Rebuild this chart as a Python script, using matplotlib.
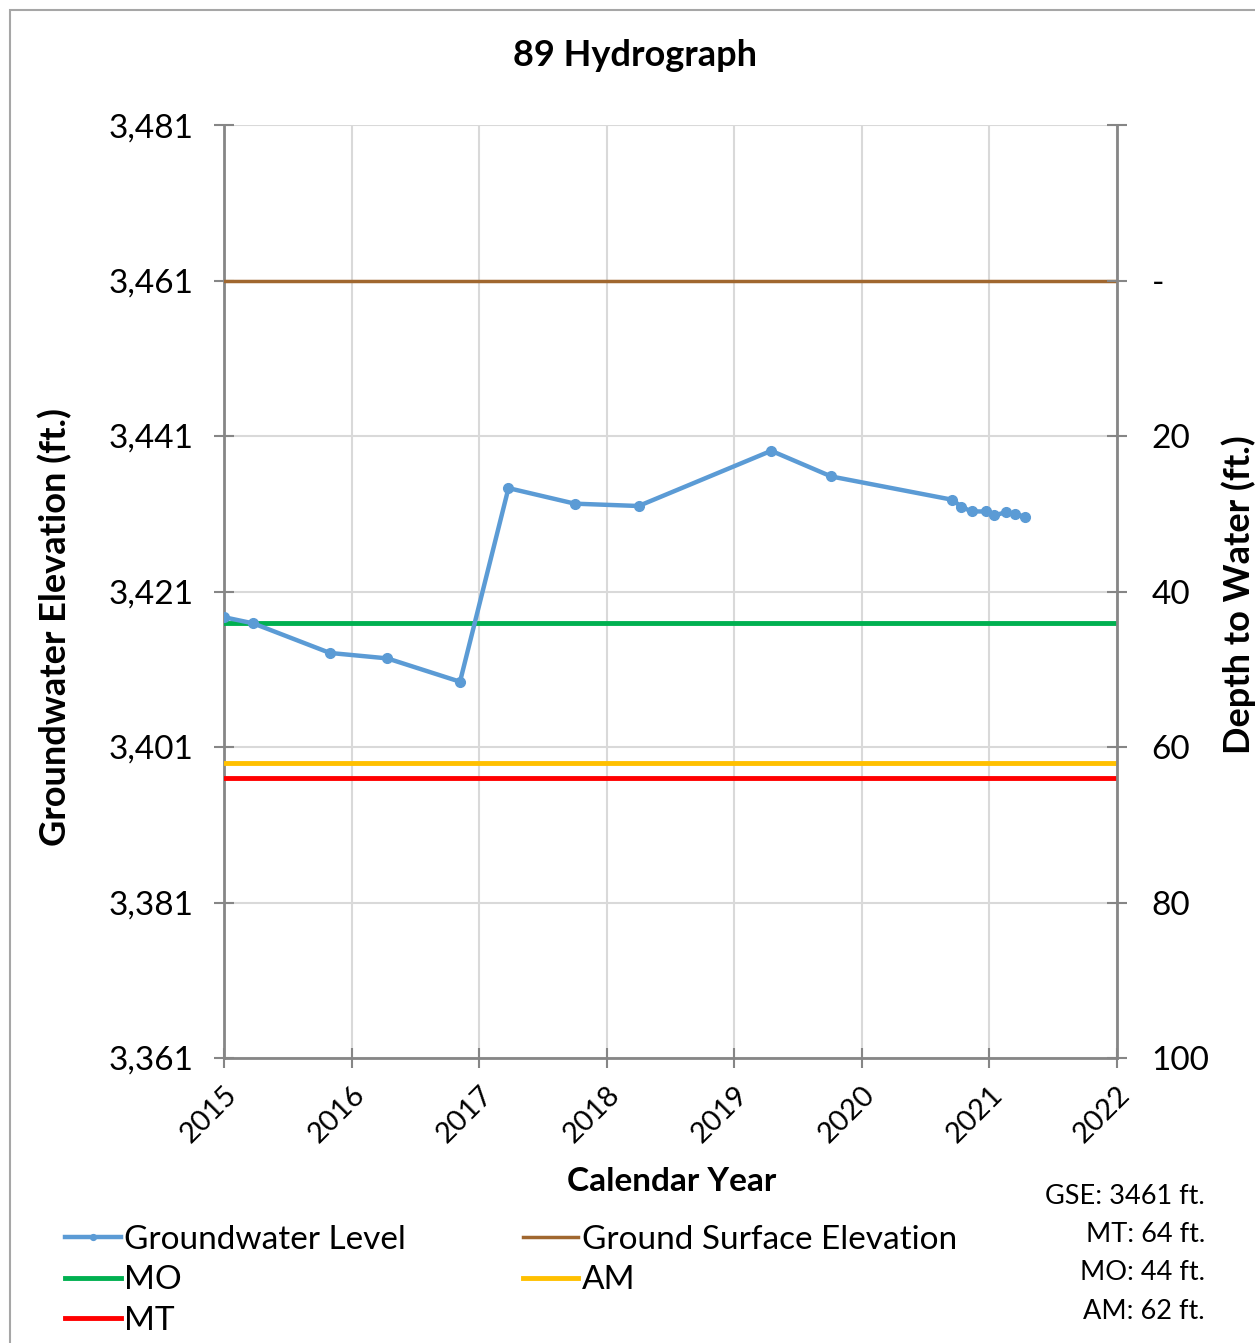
import matplotlib.pyplot as plt
from matplotlib.patches import Rectangle

plt.rcParams['font.family'] = ['Lato', 'DejaVu Sans']

# groundwater level readings (decimal year, elevation ft)
gw_year = [2015.0, 2015.23, 2015.83, 2016.28, 2016.85, 2017.23, 2017.75, 2018.25,
           2019.29, 2019.76, 2020.71, 2020.78, 2020.86, 2020.97, 2021.04, 2021.13,
           2021.2, 2021.28]
gw_elev = [3417.7, 3416.9, 3413.1, 3412.4, 3409.4, 3434.3, 3432.3, 3432.0,
           3439.1, 3435.8, 3432.8, 3431.9, 3431.3, 3431.3, 3430.8, 3431.2,
           3431.0, 3430.6]

gse = 3461
mo_depth = 44
am_depth = 62
mt_depth = 64

years = list(range(2015, 2023))
elev_ticks = [3361, 3381, 3401, 3421, 3441, 3461, 3481]
depth_ticks = [-20, 0, 20, 40, 60, 80, 100]
depth_labels = ['', '-', '20', '40', '60', '80', '100']

fig = plt.figure(figsize=(12.55, 13.43), dpi=100)
ax = fig.add_axes([0.1785, 0.2122, 0.7115, 0.6947])

grid_c = '#D9D9D9'
axis_c = '#868686'

for y in years:
    ax.axvline(y, color=grid_c, lw=1.5, zorder=0)
for e in elev_ticks:
    ax.axhline(e, color=grid_c, lw=1.5, zorder=0)

l_gw, = ax.plot(gw_year, gw_elev, color='#5B9BD5', lw=3.2, marker='o', ms=7,
                label='Groundwater Level', zorder=5)
l_gse, = ax.plot([2015, 2022], [gse, gse], color='#A0672F', lw=2.5,
                 label='Ground Surface Elevation', zorder=3)
l_mo, = ax.plot([2015, 2022], [gse - mo_depth] * 2, color='#00B050', lw=3.5,
                label='MO', zorder=3)
l_am, = ax.plot([2015, 2022], [gse - am_depth] * 2, color='#FFC000', lw=3.5,
                label='AM', zorder=3)
l_mt, = ax.plot([2015, 2022], [gse - mt_depth] * 2, color='#FF0000', lw=3.5,
                label='MT', zorder=3)

ax.set_xlim(2015, 2022)
ax.set_ylim(3361, 3481)
ax.set_xticks(years)
ax.set_xticklabels([str(y) for y in years], rotation=45, ha='right',
                   rotation_mode='anchor', fontsize=21)
ax.set_yticks(elev_ticks)
ax.set_yticklabels([f'{e:,}' for e in elev_ticks], fontsize=24)
ax.tick_params(direction='inout', length=14, width=1.5, color=axis_c, pad=15)
ax.tick_params(axis='x', pad=10)

for s in ['top', 'right']:
    ax.spines[s].set_visible(False)
for s in ['left', 'bottom']:
    ax.spines[s].set_color(axis_c)
    ax.spines[s].set_linewidth(2)

ax2 = ax.twinx()
ax2.set_ylim(100, -20)
ax2.set_yticks(depth_ticks)
ax2.set_yticklabels(depth_labels, fontsize=24)
ax2.tick_params(direction='inout', length=14, width=1.5, color=axis_c, pad=18)
for s in ['top', 'left', 'bottom']:
    ax2.spines[s].set_visible(False)
ax2.spines['right'].set_color(axis_c)
ax2.spines['right'].set_linewidth(2)

fig.text(0.506, 0.959, '89 Hydrograph', ha='center', va='center',
         fontsize=26, fontweight='bold')
fig.text(0.044, 0.533, 'Groundwater Elevation (ft.)', rotation=90, ha='center',
         va='center', fontsize=26, fontweight='bold')
fig.text(0.987, 0.557, 'Depth to Water (ft.)', rotation=90, ha='center',
         va='center', fontsize=26, fontweight='bold')
fig.text(0.535, 0.120, 'Calendar Year', ha='center', va='center',
         fontsize=24, fontweight='bold')

notes = [f'GSE: {gse} ft.', f'MT: {mt_depth} ft.', f'MO: {mo_depth} ft.',
         f'AM: {am_depth} ft.']
for i, t in enumerate(notes):
    fig.text(0.960, 1 - (1196 + i * 38.5) / 1343, t, ha='right', va='center',
             fontsize=19.5)

fig.legend([l_gw, l_mo, l_mt, l_gse, l_am],
           ['Groundwater Level', 'MO', 'MT', 'Ground Surface Elevation', 'AM'],
           ncol=2, loc='upper left', bbox_to_anchor=(0.052, 0.0878),
           frameon=False, fontsize=24, handlelength=1.67, handletextpad=0.1,
           labelspacing=0.31, columnspacing=3.5, borderaxespad=0,
           borderpad=0, markerscale=0.6)

fig.patches.append(Rectangle((10 / 1255, -0.1), 1.2, 1 - 10 / 1343 + 0.1,
                             transform=fig.transFigure, fill=False,
                             edgecolor='#A6A6A6', lw=1.5))

fig.savefig('out.png', dpi=100)
